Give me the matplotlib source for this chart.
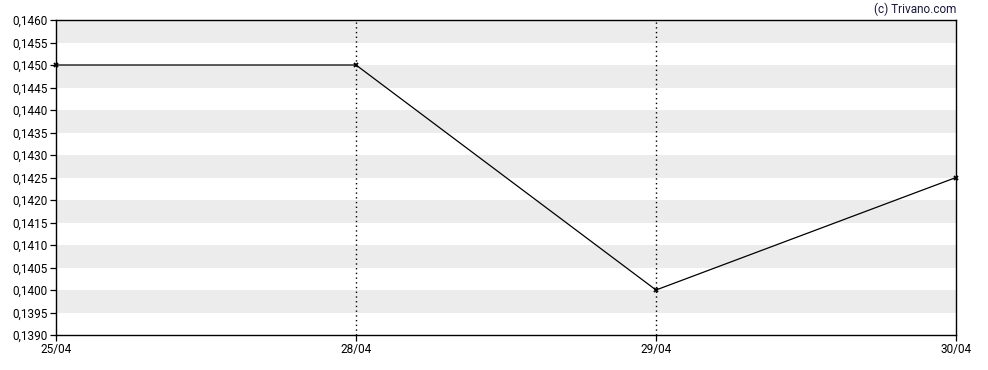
import matplotlib.pyplot as plt
import numpy as np

dates = ['25/04', '28/04', '29/04', '30/04']
prices = [0.1450, 0.1450, 0.1400, 0.1425]
y_ticks = np.arange(0.1390, 0.14601, 0.0005)

plt.rcParams['font.family'] = ['Roboto', 'DejaVu Sans']

fig = plt.figure(figsize=(9.88, 3.70), dpi=100)
ax = fig.add_axes([56 / 988, 1 - 335 / 370, 900 / 988, 315 / 370])

# alternating grey bands
for lo in np.arange(0.1395, 0.1460, 0.0010):
    ax.axhspan(lo, lo + 0.0005, color='#ececec', lw=0, zorder=0)

x = np.arange(len(dates))
for xi in x[1:-1]:
    ax.axvline(xi, color='black', ls=(0, (1, 2.4)), lw=1.0, zorder=1)

ax.plot(x, prices, color='black', lw=0.9, marker='x', ms=3.5, mew=1.3, zorder=3, clip_on=False)

ax.set_xlim(0, len(dates) - 1)
ax.set_ylim(0.1390, 0.1460)
ax.set_xticks(x)
ax.set_xticklabels(dates)
ax.set_yticks(y_ticks)
ax.set_yticklabels([f'{v:.4f}'.replace('.', ',') for v in y_ticks])
ax.tick_params(labelsize=8.5, length=4, width=0.9, colors='black', pad=2)
for s in ax.spines.values():
    s.set_linewidth(1.0)

fig.text(956 / 988, 1 - 9 / 370, '(c) Trivano.com', ha='right', va='center', fontsize=8.5, color='#1a1a3a')

fig.savefig('out.png', dpi=100)
